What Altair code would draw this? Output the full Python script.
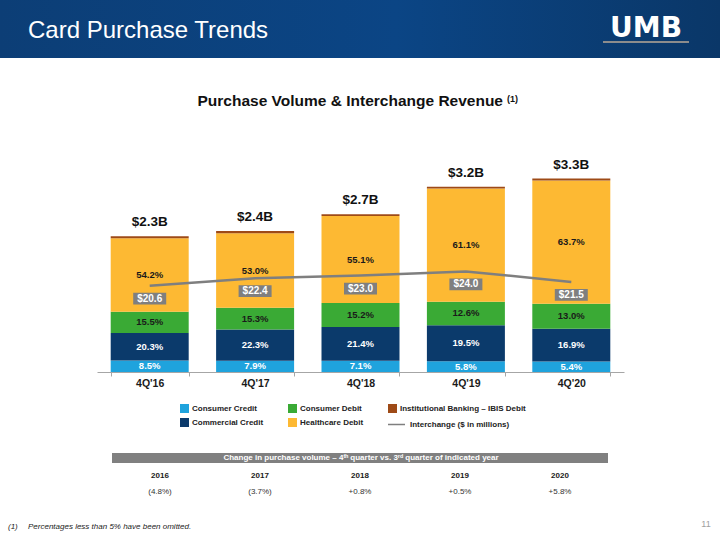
import altair as alt
import pandas as pd

F = "Liberation Sans"

quarters = ["4Q'16", "4Q'17", "4Q'18", "4Q'19", "4Q'20"]
totals_b = [2.33, 2.42, 2.71, 3.18, 3.32]
total_labels = ["$2.3B", "$2.4B", "$2.7B", "$3.2B", "$3.3B"]
consumer_credit = [8.5, 7.9, 7.1, 5.8, 5.4]
commercial_credit = [20.3, 22.3, 21.4, 19.5, 16.9]
consumer_debit = [15.5, 15.3, 15.2, 12.6, 13.0]
healthcare_debit = [54.2, 53.0, 55.1, 61.1, 63.7]
ibis_debit = [1.5, 1.5, 1.2, 1.0, 1.0]
interchange = [20.6, 22.4, 23.0, 24.0, 21.5]
interchange_labels = ["$20.6", "$22.4", "$23.0", "$24.0", "$21.5"]
years = ["2016", "2017", "2018", "2019", "2020"]
changes = ["(4.8%)", "(3.7%)", "+0.8%", "+0.5%", "+5.8%"]

segments = ["Consumer Credit", "Commercial Credit", "Consumer Debit",
            "Healthcare Debit", "Institutional Banking – IBIS Debit"]
seg_colors = ["#1FA3DD", "#0B3A6B", "#3AAA35", "#FDB933", "#9E4A17"]
seg_values = [consumer_credit, commercial_credit, consumer_debit, healthcare_debit, ibis_debit]
light_text = {"Consumer Credit", "Commercial Credit"}

rows = []
for i, q in enumerate(quarters):
    cum = 0.0
    for k, s in enumerate(segments):
        pct = seg_values[k][i]
        v = totals_b[i] * pct / 100.0
        rows.append(dict(quarter=q, segment=s, y0=cum, y1=cum + v, mid=cum + v / 2,
                         label=(f"{pct:.1f}%" if s != segments[-1] else ""),
                         light=s in light_text, order=k))
        cum += v
bars_df = pd.DataFrame(rows)
tot_df = pd.DataFrame(dict(quarter=quarters, total=totals_b, label=total_labels))
line_df = pd.DataFrame(dict(quarter=quarters, value=interchange, label=interchange_labels,
                            series=["Interchange ($ in millions)"] * 5))
tab_df = pd.DataFrame(dict(year=years, change=changes))
one = pd.DataFrame({"a": [0]})

xscale = alt.Scale(domain=quarters, paddingInner=0.26, paddingOuter=0.13)
yb = alt.Scale(domain=[0, 4.0])
yi = alt.Scale(domain=[0, 55.6])

x_axis = alt.Axis(title=None, labelAngle=0, domainColor="#A6A6A6", tickColor="#A6A6A6",
                  tickSize=4, tickBand="extent", labelFont=F, labelFontSize=10.5,
                  labelFontWeight="bold", labelColor="#1a1a1a", labelPadding=2, grid=False)

bars = alt.Chart(bars_df).mark_bar().encode(
    x=alt.X("quarter:N", scale=xscale, axis=x_axis, sort=quarters),
    y=alt.Y("y0:Q", scale=yb, axis=None),
    y2="y1:Q",
    color=alt.Color("segment:N", scale=alt.Scale(domain=segments, range=seg_colors),
                    legend=alt.Legend(orient="none", legendX=83, legendY=265, columns=3,
                                      columnPadding=24, rowPadding=5, symbolType="square",
                                      symbolSize=81, symbolStrokeWidth=0, title=None,
                                      labelFont=F, labelFontSize=8, labelFontWeight="bold",
                                      labelColor="#222222", labelOffset=3)),
)

def seg_text(light):
    return alt.Chart(bars_df).transform_filter(
        alt.datum.light == light
    ).mark_text(font=F, fontSize=9.5, fontWeight="bold",
                color=("#FFFFFF" if light else "#1a1a1a"), baseline="middle").encode(
        x=alt.X("quarter:N", scale=xscale, axis=None, sort=quarters),
        y=alt.Y("mid:Q", scale=yb, axis=None),
        text="label:N",
    )

totals = alt.Chart(tot_df).mark_text(font=F, fontSize=13.5, fontWeight="bold",
                                     color="#111111", dy=-10, baseline="alphabetic").encode(
    x=alt.X("quarter:N", scale=xscale, axis=None, sort=quarters),
    y=alt.Y("total:Q", scale=yb, axis=None),
    text="label:N",
)

line = alt.Chart(line_df).mark_line(strokeWidth=2.5).encode(
    x=alt.X("quarter:N", scale=xscale, axis=None, sort=quarters),
    y=alt.Y("value:Q", scale=yi, axis=None),
    stroke=alt.Stroke("series:N", scale=alt.Scale(range=["#7F7F7F"]),
                      legend=alt.Legend(orient="none", legendX=290, legendY=276,
                                        symbolType="stroke", symbolSize=289,
                                        symbolStrokeWidth=1.5, title=None, labelFont=F,
                                        labelFontSize=8, labelFontWeight="bold",
                                        labelColor="#222222", labelOffset=4)),
)

boxes = alt.Chart(line_df).mark_point(
    shape="M-1,-0.36L1,-0.36L1,0.36L-1,0.36Z", filled=True, size=1089,
    color="#7F7F7F", opacity=1, yOffset=13).encode(
    x=alt.X("quarter:N", scale=xscale, axis=None, sort=quarters),
    y=alt.Y("value:Q", scale=yi, axis=None),
)
box_text = alt.Chart(line_df).mark_text(font=F, fontSize=10, fontWeight="bold",
                                        color="#FFFFFF", dy=13, baseline="middle").encode(
    x=alt.X("quarter:N", scale=xscale, axis=None, sort=quarters),
    y=alt.Y("value:Q", scale=yi, axis=None),
    text="label:N",
)

tscale = alt.Scale(type="point", domain=years, range=[63, 463], padding=0)
tab_years = alt.Chart(tab_df).mark_text(font=F, fontSize=8, fontWeight="bold",
                                        color="#1a1a1a", baseline="middle").encode(
    x=alt.X("year:N", scale=tscale, axis=None), y=alt.value(337), text="year:N")
tab_vals = alt.Chart(tab_df).mark_text(font=F, fontSize=8, color="#333333",
                                       baseline="middle").encode(
    x=alt.X("year:N", scale=tscale, axis=None), y=alt.value(353), text="change:N")

def deco_rect(x, x2, y, y2, color):
    return alt.Chart(one).mark_rect(color=color).encode(
        x=alt.value(x), x2=alt.value(x2), y=alt.value(y), y2=alt.value(y2))

def deco_text(x, y, txt, **kw):
    return alt.Chart(one).mark_text(font=F, **kw).encode(
        x=alt.value(x), y=alt.value(y), text=alt.value(txt))

header = alt.Chart(one).mark_rect(color={
    "gradient": "linear", "x1": 0, "x2": 1, "y1": 0, "y2": 0,
    "stops": [{"offset": 0, "color": "#0C3E76"}, {"offset": 0.55, "color": "#0B4585"},
              {"offset": 1, "color": "#0A3768"}]}).encode(
    x=alt.value(-97), x2=alt.value(623), y=alt.value(-139), y2=alt.value(-81))

decos = [
    header,
    deco_text(-69, -108, "Card Purchase Trends", fontSize=24, color="#FFFFFF",
              align="left", baseline="middle"),
    alt.Chart(one).mark_text(font="DejaVu Sans", fontSize=28, fontWeight="bold",
                             color="#FFFFFF", align="center", baseline="alphabetic").encode(
        x=alt.value(549), y=alt.value(-102), text=alt.value("UMB")),
    deco_rect(506, 592, -98, -96, "#8C8C8C"),
    deco_text(406, -33, "Purchase Volume & Interchange Revenue", fontSize=15.5,
              fontWeight="bold", color="#111111", align="right", baseline="alphabetic"),
    deco_text(410, -37, "(1)", fontSize=9, fontWeight="bold", color="#111111",
              align="left", baseline="alphabetic"),
    deco_rect(15, 511, 314, 324, "#808080"),
    deco_text(264, 319, "Change in purchase volume – 4ᵗʰ quarter vs. 3ʳᵈ quarter of indicated year",
              fontSize=8, fontWeight="bold", color="#FFFFFF", align="center", baseline="middle"),
    deco_text(-89, 388, "(1)", fontSize=8, fontStyle="italic", color="#222222",
              align="left", baseline="middle"),
    deco_text(-69, 388, "Percentages less than 5% have been omitted.", fontSize=8,
              fontStyle="italic", color="#222222", align="left", baseline="middle"),
    deco_text(609, 385, "11", fontSize=9, color="#A0A0A0", align="center", baseline="middle"),
]

chart = alt.layer(
    *decos, bars, seg_text(True), seg_text(False), totals, line, boxes, box_text,
    tab_years, tab_vals
).resolve_scale(
    x="independent", y="independent", color="independent", stroke="independent"
).properties(
    width=527, height=233,
    padding={"left": 97, "top": 139, "right": 96, "bottom": 168},
    autosize=alt.AutoSizeParams(type="none"),
    background="#FFFFFF",
).configure_view(stroke=None)

chart.save("out.html", embed_options={"renderer": "svg", "actions": False})
